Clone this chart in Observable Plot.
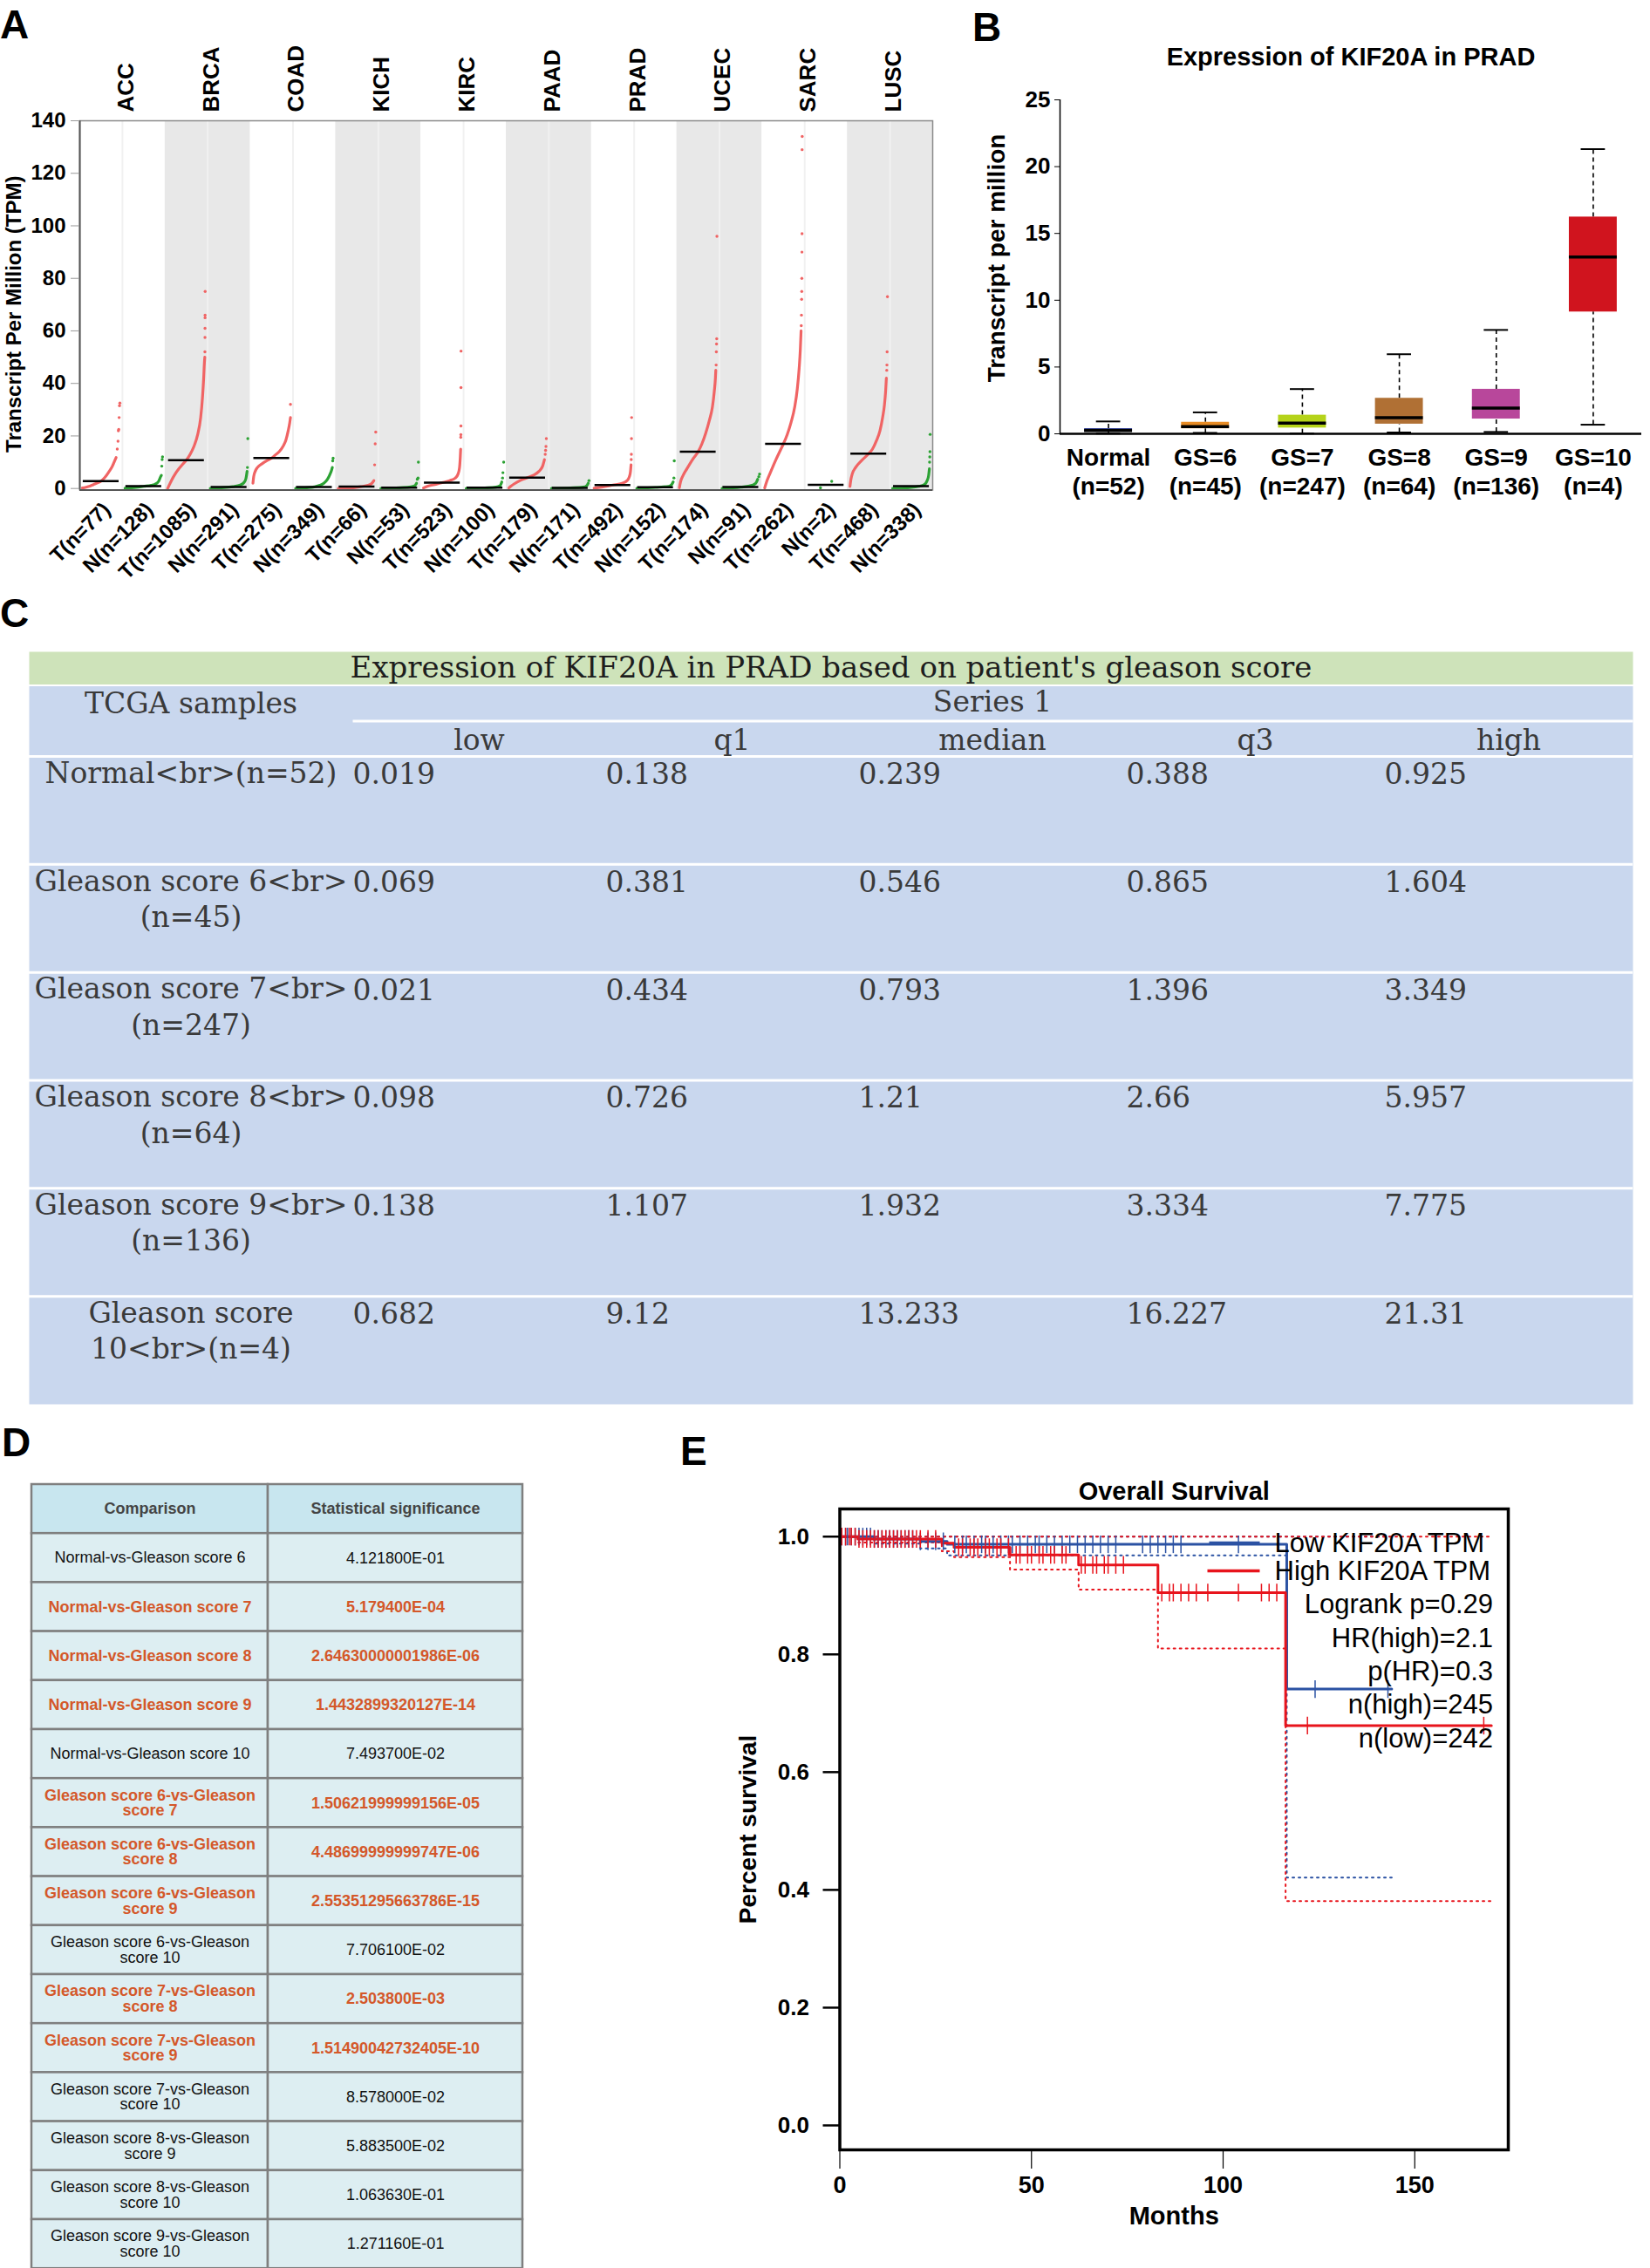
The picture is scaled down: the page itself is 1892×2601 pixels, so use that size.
<!DOCTYPE html>
<html><head><meta charset="utf-8">
<script src="https://cdn.jsdelivr.net/npm/d3@7"></script>
<script src="https://cdn.jsdelivr.net/npm/@observablehq/plot@0.6"></script>
<style>
body{margin:0;background:#fff;}
#page{position:relative;width:1892px;height:2601px;overflow:hidden;background:#fff;}
.letter{position:absolute;font:bold 46px/1 "Liberation Sans",Arial,sans-serif;color:#000;}
</style></head><body><div id="page"></div>
<script>
// ---------------- Panel A data ----------------
const cancers = ["ACC","BRCA","COAD","KICH","KIRC","PAAD","PRAD","UCEC","SARC","LUSC"];
const sampleLabels = ["T(n=77)","N(n=128)","T(n=1085)","N(n=291)","T(n=275)","N(n=349)","T(n=66)","N(n=53)","T(n=523)","N(n=100)","T(n=179)","N(n=171)","T(n=492)","N(n=152)","T(n=174)","N(n=91)","T(n=262)","N(n=2)","T(n=468)","N(n=338)"];
const medianTPM = [2.8,0.9,10.8,0.6,11.6,0.6,0.7,0.3,2.2,0.3,4.1,0.2,1.3,0.5,14.0,0.6,17.0,1.4,13.3,0.9];
// sorted sample curves: [fraction of samples, TPM]
const sortedCurves = [
  [[0,0.2],[0.1,0.5],[0.2,0.9],[0.3,1.5],[0.4,2.1],[0.5,2.8],[0.6,4.2],[0.7,6.2],[0.8,8.5],[0.86,10.5],[0.9,11.8]],
  [[0,0.1],[0.3,0.4],[0.5,0.8],[0.7,1.2],[0.8,1.6],[0.9,2.8],[0.95,4.5],[0.97,5]],
  [[0,0],[0.05,1.5],[0.1,3],[0.2,5.5],[0.3,7.5],[0.4,9.2],[0.5,10.8],[0.6,13],[0.7,16],[0.8,20.5],[0.88,27],[0.93,35],[0.96,42],[0.98,48],[0.99,50]],
  [[0,0.05],[0.3,0.3],[0.6,0.7],[0.8,1.3],[0.9,2.3],[0.95,3.8],[0.98,6.5]],
  [[0,2],[0.02,4.5],[0.06,6.5],[0.12,8],[0.25,9.5],[0.4,10.8],[0.5,11.6],[0.6,12.8],[0.7,14],[0.8,16],[0.88,18.5],[0.94,22],[0.98,25],[1,27]],
  [[0,0.05],[0.3,0.3],[0.5,0.6],[0.65,1.2],[0.75,2],[0.85,3.5],[0.92,5.5],[0.96,7],[0.98,8]],
  [[0,0],[0.4,0.3],[0.6,0.7],[0.8,1.2],[0.9,2],[0.95,3]],
  [[0,0],[0.5,0.3],[0.8,0.6],[0.9,1],[0.95,2]],
  [[0,0.2],[0.1,0.8],[0.3,1.5],[0.5,2.2],[0.7,3],[0.85,4],[0.92,5.5],[0.96,8],[0.98,12],[0.99,15]],
  [[0,0],[0.5,0.2],[0.8,0.5],[0.9,1],[0.95,2.5]],
  [[0,0.2],[0.05,0.8],[0.15,1.8],[0.3,3],[0.5,4.1],[0.65,5],[0.8,6.5],[0.9,8.5],[0.95,11]],
  [[0,0],[0.5,0.2],[0.85,0.5],[0.95,1.2],[0.98,2]],
  [[0,0.1],[0.2,0.5],[0.5,1.3],[0.75,2],[0.88,3],[0.94,4.5],[0.97,6.5],[0.985,9]],
  [[0,0],[0.5,0.4],[0.85,0.8],[0.93,1.5],[0.97,2.5]],
  [[0,0.3],[0.03,2.5],[0.1,5],[0.2,7.5],[0.35,11],[0.5,14],[0.6,17],[0.7,21],[0.8,26],[0.88,31],[0.93,37],[0.96,42],[0.97,45]],
  [[0,0],[0.5,0.5],[0.8,1.2],[0.9,2],[0.95,3.5]],
  [[0,0.2],[0.05,2.5],[0.15,6],[0.3,11],[0.4,14],[0.5,17],[0.6,20.5],[0.7,25],[0.8,31],[0.87,38],[0.92,46],[0.95,53],[0.97,60]],
  [],
  [[0,0.8],[0.02,3],[0.06,5.5],[0.15,8],[0.3,10.5],[0.5,13.3],[0.6,15],[0.7,18],[0.8,22],[0.87,27],[0.92,32],[0.95,37],[0.97,42]],
  [[0,0.05],[0.4,0.3],[0.7,0.8],[0.85,1.5],[0.92,3],[0.96,5],[0.98,7.5]]
];
// sparse high samples: [fraction of samples, TPM]
const sparsePoints = [
  [[0.93,15],[0.95,18],[0.96,22],[0.97,22.5],[0.98,27],[0.99,31.5],[1,32.5]],
  [[0.98,8.5],[0.99,11],[1,12]],
  [[0.993,52],[0.995,57.5],[0.996,61],[0.997,65],[0.998,66],[1,75]],
  [[0.99,8],[1,19]],
  [[1,32]],
  [[0.99,10.5],[1,11.5]],
  [[0.97,9],[0.985,17],[1,21.5]],
  [[0.97,3.5],[0.99,4],[1,10]],
  [[0.993,19.5],[0.995,20.5],[0.997,23.8],[0.998,38.4],[1,52.3]],
  [[0.97,4],[0.98,6],[1,10]],
  [[0.97,13],[0.98,14.5],[0.99,16],[1,19]],
  [[1,3]],
  [[0.99,11],[0.993,13],[0.996,19],[1,27]],
  [[0.99,4],[1,10.5]],
  [[0.98,47],[0.985,52],[0.99,55],[0.995,57],[1,96]],
  [[0.98,4.5],[1,5.5]],
  [[0.975,62],[0.98,66],[0.985,72],[0.988,75],[0.99,80],[0.993,90],[0.995,97],[0.997,129],[1,134]],
  [[0.35,0.25],[0.65,2.7]],
  [[0.98,45],[0.985,47],[0.99,52],[1,73]],
  [[0.985,10],[0.99,12],[0.995,14],[1,20.6]]
];
const yTicksA = [0,20,40,60,80,100,120,140];

// ---------------- Panel B / C data ----------------
const gleasonGroups = ["Normal","GS=6","GS=7","GS=8","GS=9","GS=10"];
const groupN = ["(n=52)","(n=45)","(n=247)","(n=64)","(n=136)","(n=4)"];
const tcgaSamples = ["Normal<br>(n=52)","Gleason score 6<br>\n(n=45)","Gleason score 7<br>\n(n=247)","Gleason score 8<br>\n(n=64)","Gleason score 9<br>\n(n=136)","Gleason score\n10<br>(n=4)"];
const statCols = ["low","q1","median","q3","high"];
const lowVals = [0.019,0.069,0.021,0.098,0.138,0.682];
const q1Vals = [0.138,0.381,0.434,0.726,1.107,9.12];
const medianVals = [0.239,0.546,0.793,1.21,1.932,13.233];
const q3Vals = [0.388,0.865,1.396,2.66,3.334,16.227];
const highVals = [0.925,1.604,3.349,5.957,7.775,21.31];
const yTicksB = [0,5,10,15,20,25];
const tableTitle = "Expression of KIF20A in PRAD based on patient's gleason score";

// ---------------- Panel D data ----------------
const tableHeaders = ["Comparison","Statistical significance"];
const comparisons = ["Normal-vs-Gleason score 6","Normal-vs-Gleason score 7","Normal-vs-Gleason score 8","Normal-vs-Gleason score 9","Normal-vs-Gleason score 10",
  "Gleason score 6-vs-Gleason\nscore 7","Gleason score 6-vs-Gleason\nscore 8","Gleason score 6-vs-Gleason\nscore 9","Gleason score 6-vs-Gleason\nscore 10",
  "Gleason score 7-vs-Gleason\nscore 8","Gleason score 7-vs-Gleason\nscore 9","Gleason score 7-vs-Gleason\nscore 10",
  "Gleason score 8-vs-Gleason\nscore 9","Gleason score 8-vs-Gleason\nscore 10","Gleason score 9-vs-Gleason\nscore 10"];
const pValues = ["4.121800E-01","5.179400E-04","2.64630000001986E-06","1.4432899320127E-14","7.493700E-02","1.50621999999156E-05","4.48699999999747E-06","2.55351295663786E-15","7.706100E-02","2.503800E-03","1.51490042732405E-10","8.578000E-02","5.883500E-02","1.063630E-01","1.271160E-01"];

// ---------------- Panel E data ----------------
const lowTime = [0,9,21,28,116.6,144];
const lowSurv = [1,0.996,0.992,0.987,0.741,0.741];
const lowCILower = [1,0.988,0.98,0.968,0.421,0.421];
const lowCIUpper = [1,1,1,1,1,1];
const highTime = [0,4.7,26.6,29.8,44.4,62.3,83,116.3,170];
const highSurv = [1,0.996,0.989,0.982,0.969,0.952,0.905,0.679,0.679];
const highCILower = [1,0.99,0.975,0.965,0.944,0.91,0.81,0.381,0.381];
const highCIUpper = [1,1,1,1,1,1,1,1,1];
const lowCensor = [0.5,1.5,2,3,4,5,6,7,8,9,10,11,12,13,14,15,16,17,18,19,21,23,25,27,30,32,33,35,37,38,40,42,44,45,47,49,51,52,54,56,58,60,62,64,66,68,70,72,79,81,83,85,87,89,104,124,143];
const highCensor = [0.5,1.5,2.5,3,4,5,6,7,8,9,10,11,12,13,14,15,16,17,18,19,20,21,23,25,31,32,34,35,36,38,39,41,42,44,46,47,49,50,52,53,55,56,58,59,63,64,66,67,69,70,72,74,84,86,87,89,91,93,96,104,110,112,114,122,168];
const legendLabels = ["Low KIF20A TPM","High KIF20A TPM"];
const statsLines = ["Logrank p=0.29","HR(high)=2.1","p(HR)=0.3","n(high)=245","n(low)=242"];
const xTicksE = [0,50,100,150];
const yTicksE = [0,0.2,0.4,0.6,0.8,1.0];

// ---------------- rendering ----------------
const page = document.getElementById("page");
function place(node, left, top) { node.style.position = "absolute"; node.style.left = left + "px"; node.style.top = top + "px"; page.appendChild(node); }
const sans = '"Liberation Sans", Arial, Helvetica, sans-serif';

// Panel A
const redA = "#f06464", greenA = "#2ca234";
const curveRows = sortedCurves.flatMap((pts, col) => pts.map(([f, v]) => ({col, f, v})));
const sparseRows = sparsePoints.flatMap((pts, col) => pts.map(([f, v]) => ({col, f, v})));
const colX = d => d.col + 0.06 + d.f * 0.88;
const colColor = d => d.col % 2 ? greenA : redA;
const plotA = Plot.plot({
  width: 1080, height: 690, marginLeft: 91, marginRight: 11, marginTop: 138, marginBottom: 128.5,
  style: {fontFamily: sans, fontSize: "24px", fontWeight: "bold", color: "#000", background: "white"},
  color: {type: "identity"},
  x: {domain: [0, 20], axis: null},
  y: {domain: [-0.6, 140], label: null},
  marks: [
    Plot.rect(sampleLabels, {x1: (d, i) => i, x2: (d, i) => i + 1, y1: -0.6, y2: 140, fill: (d, i) => Math.floor(i / 2) % 2 ? "#e8e8e8" : "#ffffff"}),
    Plot.ruleX(sampleLabels.map((d, i) => i).filter(i => i % 2 === 1), {stroke: "#f1f1f1", strokeWidth: 2}),
    Plot.line(curveRows, {x: colX, y: "v", z: "col", stroke: colColor, strokeWidth: 3.2, curve: "monotone-x"}),
    Plot.dot(sparseRows, {x: colX, y: "v", r: 1.7, fill: colColor, stroke: null}),
    Plot.ruleY(medianTPM, {x1: (d, i) => i + 0.08, x2: (d, i) => i + 0.92, y: d => d, stroke: "#000", strokeWidth: 2.5}),
    Plot.frame({stroke: "#8a8a8a", strokeWidth: 1.5}),
    Plot.ruleX([0], {stroke: "#555", strokeWidth: 2}),
    Plot.ruleY([-0.6], {stroke: "#555", strokeWidth: 2}),
    Plot.axisY({ticks: yTicksA, tickSize: 10, tickPadding: 6, stroke: "#999", fill: "#000", label: null}),
    Plot.text(cancers, {x: (d, k) => 2 * k + 1, frameAnchor: "top", lineAnchor: "middle", dy: -10, dx: 4, rotate: -90, textAnchor: "start", fontSize: 26, fill: "#000"}),
    Plot.text(sampleLabels, {x: (d, i) => i + 0.5, frameAnchor: "bottom", rotate: -45, textAnchor: "end", dx: 12, dy: 24, fontSize: 24, fill: "#000"}),
    Plot.text(["Transcript Per Million (TPM)"], {frameAnchor: "left", textAnchor: "middle", lineAnchor: "middle", rotate: -90, dx: -75, dy: 10, fontSize: 24, fill: "#000"})
  ]
});
place(plotA, 0, 0);

// Panel B
const boxColors = ["#2d3a8e","#e98c24","#b5d31a","#b07034","#b8479b","#d0141e"];
const gIdx = gleasonGroups.map((d, i) => i);
const plotB = Plot.plot({
  width: 792, height: 600, marginLeft: 115, marginRight: 10, marginTop: 114, marginBottom: 103,
  style: {fontFamily: sans, fontSize: "26px", fontWeight: "bold", color: "#000", background: "white"},
  color: {type: "identity"},
  x: {domain: [0, 6], axis: null},
  y: {domain: [0, 25], label: null},
  marks: [
    Plot.ruleX(gIdx, {x: i => i + 0.5, y1: i => q3Vals[i], y2: i => highVals[i], strokeDasharray: "5,4", strokeWidth: 1.6}),
    Plot.ruleX(gIdx, {x: i => i + 0.5, y1: i => lowVals[i], y2: i => q1Vals[i], strokeDasharray: "5,4", strokeWidth: 1.6}),
    Plot.ruleY(gIdx, {y: i => highVals[i], x1: i => i + 0.375, x2: i => i + 0.625, strokeWidth: 2}),
    Plot.ruleY(gIdx, {y: i => lowVals[i], x1: i => i + 0.375, x2: i => i + 0.625, strokeWidth: 2}),
    Plot.rect(gIdx, {x1: i => i + 0.253, x2: i => i + 0.747, y1: i => q1Vals[i], y2: i => q3Vals[i], fill: i => boxColors[i]}),
    Plot.ruleY(gIdx, {y: i => medianVals[i], x1: i => i + 0.253, x2: i => i + 0.747, strokeWidth: 3.5}),
    Plot.ruleY([0], {strokeWidth: 2.5}),
    Plot.ruleX([0], {strokeWidth: 1.5}),
    Plot.axisY({ticks: yTicksB, tickSize: 6, tickPadding: 5, label: null}),
    Plot.text(gIdx, {x: i => i + 0.5, text: i => gleasonGroups[i] + "\n" + groupN[i], frameAnchor: "bottom", lineAnchor: "top", dy: 14, fontSize: 28, lineHeight: 1.15}),
    Plot.text(["Expression of KIF20A in PRAD"], {frameAnchor: "top", lineAnchor: "middle", dy: -49, fontSize: 29}),
    Plot.text(["Transcript per million"], {frameAnchor: "left", textAnchor: "middle", lineAnchor: "middle", rotate: -90, dx: -72, dy: -10, fontSize: 28})
  ]
});
place(plotB, 1100, 0);

// Panel C
const colPosC = d3.scaleLinear().domain([-1, 0, 1, 2, 3, 4, 5]).range([33, 404, 694, 984, 1291, 1587, 1872]);
const rowIdx = tcgaSamples.map((d, i) => i);
const statArrays = [lowVals, q1Vals, medianVals, q3Vals, highVals];
const cCells = rowIdx.flatMap(r => statCols.map((c, j) => ({r, j, v: statArrays[j][r]})));
const plotC = Plot.plot({
  width: 1892, height: 880, marginLeft: 33, marginRight: 20, marginTop: 127, marginBottom: 10,
  style: {fontFamily: '"DejaVu Serif", serif', fontSize: "33px", color: "#3a3a3a", background: "white"},
  x: {type: "identity", axis: null},
  y: {domain: [0, 6], range: [127, 870], axis: null},
  marks: [
    Plot.frame({fill: "#cee3ba", stroke: "none", insetTop: -120, insetBottom: 825.5}),
    Plot.frame({fill: "#c9d7ee", stroke: "none", insetTop: -80.5}),
    Plot.frame({fill: "white", stroke: "none", insetTop: -42, insetBottom: 782, insetLeft: 371}),
    Plot.ruleY(rowIdx, {stroke: "white", strokeWidth: 3}),
    Plot.text([tableTitle], {frameAnchor: "top", lineAnchor: "middle", dy: -101, fontSize: 34, fill: "#1e1e1e"}),
    Plot.text(["TCGA samples"], {x: colPosC(-0.5), frameAnchor: "top", lineAnchor: "middle", dy: -60}),
    Plot.text(["Series 1"], {x: colPosC(2.5), frameAnchor: "top", lineAnchor: "middle", dy: -62}),
    Plot.text(statCols, {x: (d, j) => colPosC(j + 0.5), frameAnchor: "top", lineAnchor: "bottom", dy: -8}),
    Plot.text(tcgaSamples, {x: colPosC(-0.5), y: (d, i) => i, lineAnchor: "top", dy: 1, lineHeight: 1.25}),
    Plot.text(cCells, {x: d => colPosC(d.j), y: "r", text: d => String(d.v), textAnchor: "start", lineAnchor: "top", dy: 8})
  ]
});
place(plotC, 0, 740);

// Panel D
const colPosD = d3.scaleLinear().domain([0, 1, 2]).range([36, 307, 599]);
const orange = "#d4582a";
const dRows = comparisons.map((c, i) => ({c, p: pValues[i], r: i + 1, sig: +pValues[i] < 0.05}));
const dCells = dRows.flatMap(d => [0, 1].map(col => ({...d, col})));
const plotD = Plot.plot({
  width: 610, height: 911, marginLeft: 36, marginRight: 11, marginTop: 12, marginBottom: 0,
  style: {fontFamily: sans, fontSize: "18px", color: "#111", background: "white"},
  x: {type: "identity", axis: null},
  y: {domain: [0, 16], range: [12, 911.2], axis: null},
  marks: [
    Plot.rect([0, 1], {x1: c => colPosD(c), x2: c => colPosD(c + 1), y1: 0, y2: 1, fill: "#c8e6ef", stroke: "#7f7f7f", strokeWidth: 2.5}),
    Plot.rect(dCells, {x1: d => colPosD(d.col), x2: d => colPosD(d.col + 1), y1: d => d.r, y2: d => d.r + 1, fill: "#ddeef2", stroke: "#7f7f7f", strokeWidth: 2.5}),
    Plot.text(tableHeaders, {x: (d, i) => colPosD(i + 0.5), y: 0.5, fontWeight: "bold", fill: "#444"}),
    Plot.text(dRows.filter(d => !d.sig), {x: colPosD(0.5), y: d => d.r + 0.5, text: "c", fill: "#111", lineHeight: 0.97}),
    Plot.text(dRows.filter(d => d.sig), {x: colPosD(0.5), y: d => d.r + 0.5, text: "c", fill: orange, fontWeight: "bold", lineHeight: 0.97}),
    Plot.text(dRows.filter(d => !d.sig), {x: colPosD(1.5), y: d => d.r + 0.5, text: "p", fill: "#111"}),
    Plot.text(dRows.filter(d => d.sig), {x: colPosD(1.5), y: d => d.r + 0.5, text: "p", fill: orange, fontWeight: "bold"})
  ]
});
place(plotD, 0, 1690);

// Panel E
const blueE = "#2b52a3", redE = "#e8141c";
const steps = (times, vals) => times.map((t, i) => ({t, s: vals[i]}));
const survAt = (times, vals, t) => { let s = vals[0]; times.forEach((tt, i) => { if (tt <= t) s = vals[i]; }); return s; };
const hline = {draw(ctx, size) { const w = Math.sqrt(size / Math.PI); ctx.moveTo(-w, 0); ctx.lineTo(w, 0); }};
const plotE = Plot.plot({
  width: 1112, height: 911, marginLeft: 182.5, marginRight: 163, marginTop: 40, marginBottom: 136,
  style: {fontFamily: sans, fontSize: "26px", fontWeight: "bold", color: "#000", background: "white"},
  x: {domain: [0, 174.4], label: null},
  y: {domain: [-0.0415, 1.047], label: null},
  marks: [
    Plot.line(steps(lowTime, lowCIUpper), {x: "t", y: "s", curve: "step-after", stroke: blueE, strokeWidth: 2, strokeDasharray: "2,5"}),
    Plot.line(steps(lowTime, lowCILower), {x: "t", y: "s", curve: "step-after", stroke: blueE, strokeWidth: 2, strokeDasharray: "2,5"}),
    Plot.line(steps(highTime, highCIUpper), {x: "t", y: "s", curve: "step-after", stroke: redE, strokeWidth: 2, strokeDasharray: "2,5"}),
    Plot.line(steps(highTime, highCILower), {x: "t", y: "s", curve: "step-after", stroke: redE, strokeWidth: 2, strokeDasharray: "2,5"}),
    Plot.line(steps(lowTime, lowSurv), {x: "t", y: "s", curve: "step-after", stroke: blueE, strokeWidth: 3}),
    Plot.line(steps(highTime, highSurv), {x: "t", y: "s", curve: "step-after", stroke: redE, strokeWidth: 3}),
    Plot.link(lowCensor, {x1: t => t, x2: t => t, y1: t => survAt(lowTime, lowSurv, t) - 0.015, y2: t => survAt(lowTime, lowSurv, t) + 0.015, stroke: blueE, strokeWidth: 1.5}),
    Plot.link(highCensor, {x1: t => t, x2: t => t, y1: t => survAt(highTime, highSurv, t) - 0.015, y2: t => survAt(highTime, highSurv, t) + 0.015, stroke: redE, strokeWidth: 1.5}),
    Plot.frame({stroke: "#000", strokeWidth: 3.5}),
    Plot.axisY({ticks: yTicksE, tickFormat: d3.format(".1f"), tickSize: 19, tickPadding: 16, strokeWidth: 2.5, label: null}),
    Plot.axisX({ticks: xTicksE, tickSize: 22, tickPadding: 8, strokeWidth: 1.2, label: null, fontSize: 27}),
    Plot.dot([legendLabels[0]], {frameAnchor: "top-left", dx: 452.5, dy: 39, symbol: hline, r: 29, fill: "none", stroke: blueE, strokeWidth: 3.5}),
    Plot.dot([legendLabels[1]], {frameAnchor: "top-left", dx: 451.5, dy: 71, symbol: hline, r: 30, fill: "none", stroke: redE, strokeWidth: 3.5}),
    Plot.text([legendLabels[0]], {frameAnchor: "top-left", lineAnchor: "middle", dx: 498.5, dy: 40, textAnchor: "start", fontSize: 31, fontWeight: "normal"}),
    Plot.text([legendLabels[1]], {frameAnchor: "top-left", lineAnchor: "middle", dx: 498.5, dy: 72, textAnchor: "start", fontSize: 31, fontWeight: "normal"}),
    Plot.text([statsLines.join("\n")], {frameAnchor: "top-right", dx: -17.5, dy: 92.8, textAnchor: "end", lineAnchor: "top", lineHeight: 1.235, fontSize: 31, fontWeight: "normal"}),
    Plot.text(["Overall Survival"], {frameAnchor: "top", lineAnchor: "middle", dy: -20, fontSize: 29}),
    Plot.text(["Months"], {frameAnchor: "bottom", lineAnchor: "middle", dy: 76, fontSize: 29}),
    Plot.text(["Percent survival"], {frameAnchor: "left", textAnchor: "middle", lineAnchor: "middle", rotate: -90, dx: -104.5, fontSize: 28})
  ]
});
place(plotE, 780, 1690);

// Panel letters
[["A", 0, 5], ["B", 1115, 8], ["C", 0, 680], ["D", 2, 1631], ["E", 780, 1641]].forEach(([t, l, tp]) => {
  const d = document.createElement("div"); d.className = "letter"; d.textContent = t; d.style.left = l + "px"; d.style.top = tp + "px"; page.appendChild(d);
});
</script></body></html>
